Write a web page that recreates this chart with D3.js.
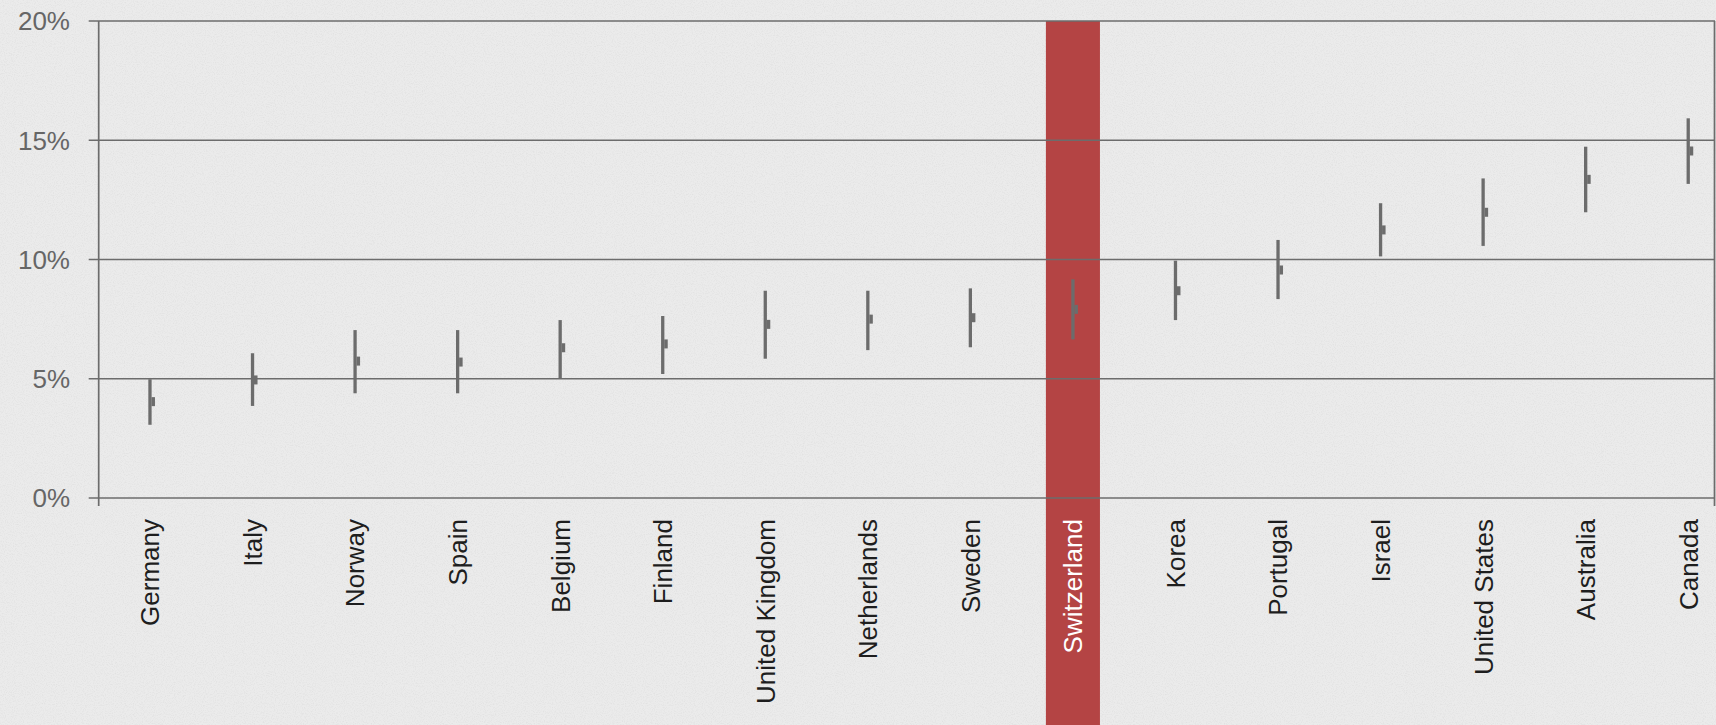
<!DOCTYPE html>
<html>
<head>
<meta charset="utf-8">
<script src="https://cdn.jsdelivr.net/npm/d3@7"></script>
<style>
  html, body { margin: 0; padding: 0; background: #eaeaea; }
  svg { display: block; }
  text { font-family: "Liberation Sans", Arial, Helvetica, sans-serif; }
</style>
</head>
<body>
<svg id="chart" width="1716" height="725"></svg>
<script>
// Countries, ordered by estimate
const countries = ["Germany", "Italy", "Norway", "Spain", "Belgium", "Finland",
  "United Kingdom", "Netherlands", "Sweden", "Switzerland", "Korea", "Portugal",
  "Israel", "United States", "Australia", "Canada"];
// Lower bound, central estimate, upper bound (percent)
const lowValues  = [3.07, 3.86, 4.39, 4.39, 5.02, 5.20, 5.84, 6.20, 6.32, 6.65, 7.46, 8.34, 10.13, 10.57, 11.98, 13.17];
const midValues  = [4.04, 4.95, 5.74, 5.70, 6.30, 6.46, 7.28, 7.50, 7.56, 7.91, 8.69, 9.56, 11.24, 11.98, 13.36, 14.55];
const highValues = [4.98, 6.07, 7.04, 7.04, 7.46, 7.63, 8.69, 8.69, 8.79, 9.17, 9.95, 10.82, 12.36, 13.40, 14.73, 15.92];
const yTickValues = [0, 5, 10, 15, 20];
const yTickLabels = ["0%", "5%", "10%", "15%", "20%"];
const highlighted = "Switzerland";

(function () {
  const W = 1716, H = 725;
  const plotLeft = 98.7, plotTop = 21, plotBottom = 498;
  const step = 102.55;

  const svg = d3.select("#chart");

  // paper-like background
  const defs = svg.append("defs");
  const f = defs.append("filter").attr("id", "paper").attr("x", 0).attr("y", 0).attr("width", "100%").attr("height", "100%");
  f.append("feTurbulence").attr("type", "fractalNoise").attr("baseFrequency", 0.9).attr("numOctaves", 2).attr("seed", 3).attr("result", "n");
  f.append("feColorMatrix").attr("in", "n").attr("type", "matrix")
    .attr("values", "0 0 0 0 0.45  0 0 0 0 0.45  0 0 0 0 0.45  0 0 0 -1.1 0.62");
  svg.append("rect").attr("width", W).attr("height", H).attr("fill", "#ebebeb");
  svg.append("rect").attr("width", W).attr("height", H).attr("fill", "#fff").attr("filter", "url(#paper)").attr("opacity", 0.35);

  const x = d3.scaleBand().domain(countries)
    .range([plotLeft, plotLeft + step * countries.length])
    .paddingInner(0.473).paddingOuter(0.2365);
  const y = d3.scaleLinear().domain([0, 20]).range([plotBottom, plotTop]);

  const rows = countries.map((c, i) => ({ c, lo: lowValues[i], mid: midValues[i], hi: highValues[i] }));

  // highlight column
  svg.append("rect")
    .attr("x", x(highlighted)).attr("width", x.bandwidth())
    .attr("y", y(20)).attr("height", H - y(20))
    .attr("fill", "#b44444");

  const lineColor = "#6c6c6c";

  // gridlines
  svg.append("g").selectAll("line").data(yTickValues).join("line")
    .attr("x1", plotLeft - 10).attr("x2", W - 1)
    .attr("y1", d => y(d)).attr("y2", d => y(d))
    .attr("stroke", lineColor).attr("stroke-width", 1.7);

  // y tick labels
  svg.append("g").selectAll("text").data(yTickValues).join("text")
    .attr("x", 70).attr("y", d => y(d)).attr("dy", "0.36em")
    .attr("text-anchor", "end").attr("font-size", 26).attr("fill", "#666")
    .text((d, i) => yTickLabels[i]);

  // frame verticals
  svg.append("line").attr("x1", plotLeft).attr("x2", plotLeft).attr("y1", y(20)).attr("y2", plotBottom + 8)
    .attr("stroke", lineColor).attr("stroke-width", 1.7);
  svg.append("line").attr("x1", W - 1.5).attr("x2", W - 1.5).attr("y1", y(20)).attr("y2", plotBottom + 8)
    .attr("stroke", lineColor).attr("stroke-width", 1.7);

  // ranges with central-estimate markers
  const cx = d => x(d.c) + x.bandwidth() / 2;
  const g = svg.append("g");
  g.selectAll("line.range").data(rows).join("line").attr("class", "range")
    .attr("x1", cx).attr("x2", cx)
    .attr("y1", d => y(d.hi)).attr("y2", d => y(d.lo))
    .attr("stroke", lineColor).attr("stroke-width", 3.3);
  g.selectAll("rect.mid").data(rows).join("rect").attr("class", "mid")
    .attr("x", d => cx(d) + 1.5).attr("width", 3.5)
    .attr("y", d => y(d.mid) - 4.5).attr("height", 9)
    .attr("fill", lineColor);

  // category labels
  svg.append("g").selectAll("text").data(countries).join("text")
    .attr("transform", d => `translate(${x(d) + x.bandwidth() / 2},${plotBottom + 21}) rotate(-90)`)
    .attr("dy", "0.36em").attr("text-anchor", "end").attr("font-size", 26)
    .attr("fill", d => d === highlighted ? "#ffffff" : "#1e1e1e")
    .text(d => d);
})();
</script>
</body>
</html>
